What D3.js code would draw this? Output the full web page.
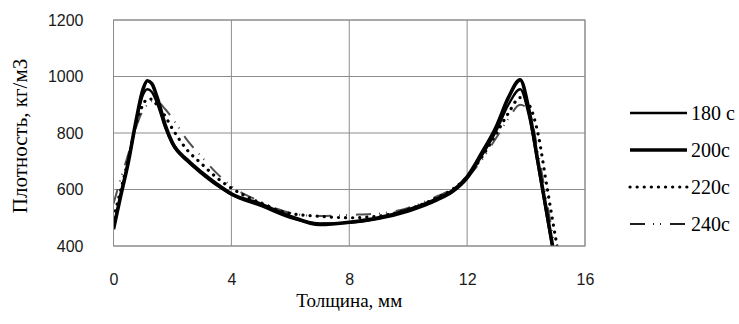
<!DOCTYPE html>
<html>
<head>
<meta charset="utf-8">
<script src="https://cdn.jsdelivr.net/npm/d3@7"></script>
<style>
  body { margin: 0; background: #fff; }
  svg { display: block; }
</style>
</head>
<body>
<div id="chart"></div>
<script>
const w = 739;
const h = 324;

// thickness, mm
const thickness = [0, 0.25, 0.5, 0.75, 1, 1.15, 1.3, 1.5, 1.75, 2, 2.5, 3, 3.5, 4, 5, 6, 7, 8, 9, 10, 11, 11.5, 12, 12.5, 13, 13.4, 13.8, 14.1, 14.4, 14.7, 15, 15.1];

// density, kg/m3
const density180 = [460, 585, 700, 830, 935, 955, 945, 900, 820, 760, 700, 655, 615, 582, 542, 500, 480, 482, 496, 522, 562, 590, 638, 720, 810, 900, 955, 860, 690, 510, 330, 270];
const density200 = [460, 580, 695, 835, 955, 985, 975, 920, 830, 765, 705, 660, 620, 585, 548, 505, 476, 484, 500, 528, 568, 595, 645, 730, 825, 925, 988, 880, 700, 520, 340, 280];
const density220 = [500, 600, 705, 825, 900, 920, 920, 895, 860, 815, 740, 690, 642, 605, 552, 515, 505, 500, 506, 530, 572, 600, 645, 715, 800, 870, 925, 900, 800, 615, 430, 370];
const density240 = [550, 640, 725, 815, 880, 900, 912, 910, 885, 852, 775, 715, 658, 612, 557, 517, 506, 510, 515, 535, 577, 602, 642, 705, 785, 850, 900, 880, 735, 560, 380, 320];

const seriesNames = ['180 c', '200c', '220c', '240c'];
const seriesValues = [density180, density200, density220, density240];

const xTicks = [0, 4, 8, 12, 16];
const yTicks = [400, 600, 800, 1000, 1200];

const styles = [
  {color: '#000', width: 2.4, dash: null, cap: 'butt'},
  {color: '#000', width: 3.6, dash: null, cap: 'butt'},
  {color: '#000', width: 3.2, dash: '0.1 7', cap: 'round'},
  {color: '#505050', width: 2, dash: '15 8 1 6 1 9', cap: 'butt'}
];

const plot = {left: 113.5, right: 585, top: 20, bottom: 246};

const svg = d3
  .select('#chart')
  .append('svg')
  .attr('width', w)
  .attr('height', h)
  .style('background-color', '#fff');

const x = d3.scaleLinear().domain([0, 16]).range([plot.left, plot.right]);
const y = d3.scaleLinear().domain([400, 1200]).range([plot.bottom, plot.top]);

// grid
svg
  .append('g')
  .selectAll('line')
  .data(xTicks)
  .enter()
  .append('line')
  .attr('x1', d => x(d))
  .attr('x2', d => x(d))
  .attr('y1', plot.top)
  .attr('y2', plot.bottom)
  .attr('stroke', '#8c8c8c')
  .attr('stroke-width', 1);

svg
  .append('g')
  .selectAll('line')
  .data(yTicks)
  .enter()
  .append('line')
  .attr('x1', plot.left)
  .attr('x2', plot.right)
  .attr('y1', d => y(d))
  .attr('y2', d => y(d))
  .attr('stroke', '#8c8c8c')
  .attr('stroke-width', 1);

// tick labels
const xAxis = d3.axisBottom(x).tickValues(xTicks).tickFormat(d3.format('d')).tickSize(0).tickPadding(28);
svg
  .append('g')
  .attr('transform', `translate(0, ${plot.bottom})`)
  .call(xAxis)
  .call(g => g.select('.domain').remove())
  .selectAll('text')
  .style('font-family', "'Liberation Sans', Arial, sans-serif")
  .style('font-size', '16px')
  .attr('fill', '#1a1a1a');

const yAxis = d3.axisLeft(y).tickValues(yTicks).tickFormat(d3.format('d')).tickSize(0).tickPadding(30);
svg
  .append('g')
  .attr('transform', `translate(${plot.left}, 0)`)
  .call(yAxis)
  .call(g => g.select('.domain').remove())
  .selectAll('text')
  .style('font-family', "'Liberation Sans', Arial, sans-serif")
  .style('font-size', '16px')
  .attr('fill', '#1a1a1a');

svg
  .append('clipPath')
  .attr('id', 'clip')
  .append('rect')
  .attr('x', plot.left)
  .attr('y', plot.top)
  .attr('width', plot.right - plot.left)
  .attr('height', plot.bottom - plot.top);

const line = d3
  .line()
  .x((d, i) => x(thickness[i]))
  .y(d => y(d))
  .curve(d3.curveMonotoneX);

// draw lighter series first so the solid lines sit on top
const order = [3, 2, 0, 1];
svg
  .append('g')
  .attr('clip-path', 'url(#clip)')
  .selectAll('path')
  .data(order)
  .enter()
  .append('path')
  .attr('d', i => line(seriesValues[i]))
  .attr('fill', 'none')
  .attr('stroke', i => styles[i].color)
  .attr('stroke-width', i => styles[i].width)
  .attr('stroke-dasharray', i => styles[i].dash)
  .attr('stroke-linecap', i => styles[i].cap)
  .attr('stroke-linejoin', 'round');

// plot border
svg
  .append('rect')
  .attr('x', plot.left)
  .attr('y', plot.top)
  .attr('width', plot.right - plot.left)
  .attr('height', plot.bottom - plot.top)
  .attr('fill', 'none')
  .attr('stroke', '#8c8c8c')
  .attr('stroke-width', 1);

// axis titles
svg
  .append('text')
  .attr('x', (plot.left + plot.right) / 2)
  .attr('y', 307)
  .style('text-anchor', 'middle')
  .style('font-family', "'Liberation Serif', 'Times New Roman', serif")
  .style('font-size', '19px')
  .text('Толщина, мм');

svg
  .append('text')
  .attr('transform', `translate(27, 136) rotate(-90)`)
  .style('text-anchor', 'middle')
  .style('font-family', "'Liberation Serif', 'Times New Roman', serif")
  .style('font-size', '21px')
  .text('Плотность, кг/м3');

// legend
const legend = svg.append('g').attr('transform', 'translate(630, 113)');
const legendRow = 37;

legend
  .selectAll('line')
  .data([0, 1, 2, 3])
  .enter()
  .append('line')
  .attr('x1', 0)
  .attr('x2', 57)
  .attr('y1', i => i * legendRow)
  .attr('y2', i => i * legendRow)
  .attr('stroke', i => (i === 3 ? '#202020' : styles[i].color))
  .attr('stroke-width', i => styles[i].width)
  .attr('stroke-dasharray', i => styles[i].dash)
  .attr('stroke-linecap', i => styles[i].cap);

legend
  .selectAll('text')
  .data(seriesNames)
  .enter()
  .append('text')
  .attr('x', 61)
  .attr('y', (d, i) => i * legendRow + 7)
  .style('font-family', "'Liberation Serif', 'Times New Roman', serif")
  .style('font-size', '20px')
  .text(d => d);
</script>
</body>
</html>
